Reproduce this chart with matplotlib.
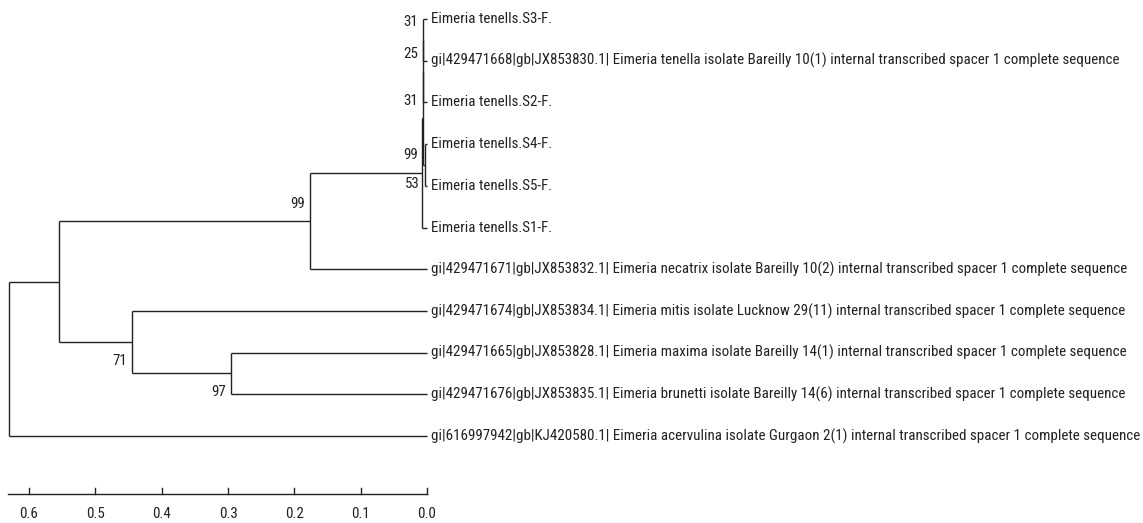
import matplotlib
matplotlib.use("Agg")
import matplotlib.pyplot as plt
import matplotlib.font_manager as fm

# ---------------- data ----------------
tip_labels = [
    "Eimeria tenells.S3-F.",
    "gi|429471668|gb|JX853830.1| Eimeria tenella isolate Bareilly 10(1) internal transcribed spacer 1 complete sequence",
    "Eimeria tenells.S2-F.",
    "Eimeria tenells.S4-F.",
    "Eimeria tenells.S5-F.",
    "Eimeria tenells.S1-F.",
    "gi|429471671|gb|JX853832.1| Eimeria necatrix isolate Bareilly 10(2) internal transcribed spacer 1 complete sequence",
    "gi|429471674|gb|JX853834.1| Eimeria mitis isolate Lucknow 29(11) internal transcribed spacer 1 complete sequence",
    "gi|429471665|gb|JX853828.1| Eimeria maxima isolate Bareilly 14(1) internal transcribed spacer 1 complete sequence",
    "gi|429471676|gb|JX853835.1| Eimeria brunetti isolate Bareilly 14(6) internal transcribed spacer 1 complete sequence",
    "gi|616997942|gb|KJ420580.1| Eimeria acervulina isolate Gurgaon 2(1) internal transcribed spacer 1 complete sequence",
]
# internal nodes: children (tip index or node name), height (distance from tips), bootstrap
node_names = ["P", "U", "V", "W", "T", "B", "D", "C", "A", "root"]
node_children = [[0, 1], ["P", 2], [3, 4], ["U", "V"], ["W", 5], ["T", 6],
                 [8, 9], [7, "D"], ["B", "C"], ["A", 10]]
node_heights = [0.0055, 0.0058, 0.0030, 0.0062, 0.0068, 0.1764, 0.2960, 0.4443, 0.5544, 0.6297]
bootstrap = [31, 25, 53, 31, 99, 99, 97, 71, None, None]
scale_ticks = [0.6, 0.5, 0.4, 0.3, 0.2, 0.1, 0.0]
scale_labels = ["0.6", "0.5", "0.4", "0.3", "0.2", "0.1", "0.0"]
scale_len = 0.631

# ---------------- font choice (prefer a narrow sans) ----------------
fp = None
ttf = fm.fontManager.ttflist
for pref in ["Liberation Sans Narrow", "Arial Narrow", "Roboto Condensed", "Open Sans Condensed"]:
    c = [f for f in ttf if f.name == pref and f.weight in (400, "normal", "regular") and f.style == "normal"]
    if c:
        fp = fm.FontProperties(fname=c[0].fname)
        break
if fp is None:
    c = [f for f in ttf if str(f.stretch) in ("condensed", "semi-condensed")
         and f.style == "normal" and f.weight in (400, "normal", "regular")
         and ("Sans" in f.name or "Roboto" in f.name)]
    if c:
        fp = fm.FontProperties(fname=c[0].fname)
if fp is None:
    fp = fm.FontProperties(family="Liberation Sans")

LC = "#222222"
TC = "#222222"
LW = 1.0

W, H, DPI = 1143, 523, 100
fig = plt.figure(figsize=(W / DPI, H / DPI), dpi=DPI)
ax = fig.add_axes([0, 0, 1, 1])
ax.set_axis_off()
px_per_unit = 663.3
tip_px = 427.0
ax.set_xlim(tip_px / px_per_unit, (tip_px - W) / px_per_unit)
row0, drow = 19.0, 41.7
ax.set_ylim((H - row0) / drow, -row0 / drow)

# positions
ypos = {i: float(i) for i in range(len(tip_labels))}
xpos = {i: 0.0 for i in range(len(tip_labels))}
for name, ch, h in zip(node_names, node_children, node_heights):
    ys = [ypos[c] for c in ch]
    ypos[name] = (ys[0] + ys[-1]) / 2
    xpos[name] = h

# draw tree
for name, ch in zip(node_names, node_children):
    xn = xpos[name]
    ys = [ypos[c] for c in ch]
    ax.plot([xn, xn], [min(ys), max(ys)], color=LC, lw=LW, solid_capstyle="butt")
    for c in ch:
        ax.plot([xn, xpos[c]], [ypos[c], ypos[c]], color=LC, lw=LW, solid_capstyle="butt")

# tip labels, sized so the long labels span the same width as the reference
fs = 10.6
texts = []
for i, lab in enumerate(tip_labels):
    t = ax.annotate(lab, (0.0, ypos[i]), xytext=(3.0, 0), textcoords="offset points",
                    ha="left", va="center", fontsize=fs, fontproperties=fp, color=TC)
    t.set_fontsize(fs)
    texts.append(t)
fig.canvas.draw()
r = fig.canvas.get_renderer()
w = texts[1].get_window_extent(r).width
fs = min(fs * 690.0 / w, 11.0)
for t in texts:
    t.set_fontsize(fs)
sfs = max(fs, 9.5)

# bootstrap labels
parent_first = {}
for name, ch in zip(node_names, node_children):
    for k, c in enumerate(ch):
        parent_first[c] = (k == 0)
for name, bs in zip(node_names, bootstrap):
    if bs is None:
        continue
    dy = 12.5 if parent_first.get(name, True) else -13.5
    t = ax.annotate(str(bs), (xpos[name], ypos[name]), xytext=(-3.5, dy), textcoords="offset points",
                    ha="right", va="center", fontproperties=fp, color=TC)
    t.set_fontsize(sfs)

# scale bar
ybar = (494 - row0) / drow
ax.plot([scale_len, 0.0], [ybar, ybar], color=LC, lw=LW)
tick_h = 6 / drow
for tv, tl in zip(scale_ticks, scale_labels):
    ax.plot([tv, tv], [ybar, ybar - tick_h], color=LC, lw=LW)
    t = ax.annotate(tl, (tv, ybar), xytext=(0, -14.5), textcoords="offset points",
                    ha="center", va="center", fontproperties=fp, color=TC)
    t.set_fontsize(sfs)

fig.savefig("out.png", dpi=DPI)
